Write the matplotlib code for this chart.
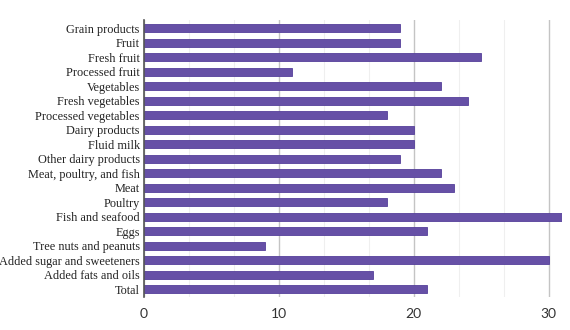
import matplotlib
matplotlib.use("Agg")
import matplotlib.pyplot as plt
from matplotlib.ticker import MultipleLocator

categories = ["Grain products", "Fruit", "Fresh fruit", "Processed fruit", "Vegetables",
              "Fresh vegetables", "Processed vegetables", "Dairy products", "Fluid milk",
              "Other dairy products", "Meat, poultry, and fish", "Meat", "Poultry",
              "Fish and seafood", "Eggs", "Tree nuts and peanuts",
              "Added sugar and sweeteners", "Added fats and oils", "Total"]
values = [19, 19, 25, 11, 22, 24, 18, 20, 20, 19, 22, 23, 18, 31, 21, 9, 30, 17, 21]
xticks = [0, 10, 20, 30]

fig = plt.figure(figsize=(5.7, 3.3), dpi=100)
ax = fig.add_axes([0.2526, 0.1, 0.7334, 0.839])

y = list(range(len(categories)))
ax.barh(y, values, height=0.55, color="#6650a6", edgecolor="#55409a", linewidth=0.6, zorder=3)
ax.set_yticks(y)
ax.set_yticklabels(categories, family="Liberation Serif", fontsize=8.8, color="#222222")
ax.set_ylim(len(categories) - 0.45, -0.55)
ax.set_xlim(0, 31)
ax.set_xticks(xticks)
ax.set_xticklabels([str(t) for t in xticks], family="Lato", fontsize=10, color="#333333")
ax.xaxis.set_minor_locator(MultipleLocator(10 / 3))
ax.grid(axis="x", which="major", color="#c4c4c4", linewidth=1.0, zorder=0)
ax.grid(axis="x", which="minor", color="#efefef", linewidth=0.8, zorder=0)
ax.tick_params(axis="both", which="both", length=0)
ax.tick_params(axis="x", pad=8)
ax.tick_params(axis="y", pad=3)
for s in ["top", "right", "bottom"]:
    ax.spines[s].set_visible(False)
ax.spines["left"].set_color("#555555")
ax.spines["left"].set_linewidth(1.2)
ax.spines["left"].set_zorder(4)

fig.savefig("out.png", dpi=100)
